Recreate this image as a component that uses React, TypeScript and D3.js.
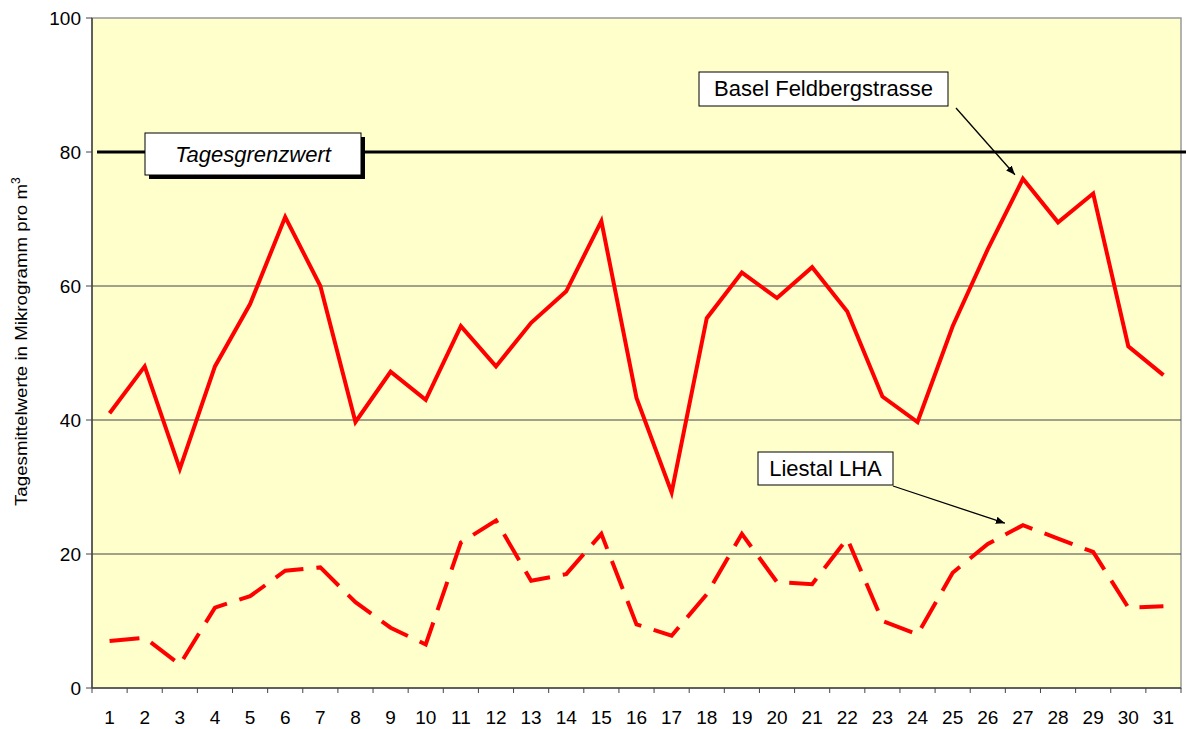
import React from 'react';
import * as d3 from 'd3';

// days of the month
const days = d3.range(1, 32).map(String);

// daily means, µg/m³
const basel = [41, 48, 32.7, 48, 57.3, 70.3, 60, 39.7, 47.2, 43, 54, 48, 54.5, 59.2, 69.7, 43.3,
  29.2, 55.2, 62, 58.2, 62.8, 56.2, 43.5, 39.7, 54, 65.5, 76, 69.5, 73.8, 51, 46.7];
const liestal = [7, 7.5, 3.5, 12, 13.7, 17.5, 18, 12.8, 9, 6.5, 21.7, 25, 16, 17, 23, 9.5,
  7.8, 14, 23, 15.8, 15.5, 22.3, 10, 8, 17.2, 21.5, 24.3, 22.3, 20.3, 12, 12.2];

const yTicks = [0, 20, 40, 60, 80, 100];
const grenzwert = 80;

const W = 1186;
const H = 729;
const m = { left: 92, right: 5, top: 18, bottom: 41 };
const font = '"Liberation Sans", Arial, sans-serif';

const App = () => {
  const x = d3.scaleBand().domain(days).range([m.left, W - m.right]);
  const y = d3.scaleLinear().domain([0, 100]).range([H - m.bottom, m.top]);
  const cx = (d: string) => (x(d) as number) + x.bandwidth() / 2;

  const line = d3.line<number>()
    .x((_, i) => cx(days[i]))
    .y(d => y(d));

  const boundaries = days.map(d => x(d) as number).concat([W - m.right]);

  // arrow tips near day 27
  const bTip = [cx('27') - 8, y(basel[26]) - 4];
  const lTip = [cx('27') - 18, y(liestal[26]) - 2];

  return (
    <svg width={W} height={H} style={{ position: 'absolute', left: 0, top: 0, background: '#fff' }}>
      <defs>
        <marker id="arr" viewBox="0 0 10 10" refX="10" refY="5" markerWidth="7" markerHeight="7" orient="auto">
          <path d="M0,1 L10,5 L0,9 z" fill="#000" />
        </marker>
      </defs>
      <rect x={m.left} y={m.top} width={W - m.right - m.left} height={H - m.bottom - m.top}
        fill="#FFFFCC" stroke="#999" strokeWidth={1.5} />

      {/* grid */}
      {[20, 40, 60].map(t => (
        <line key={t} x1={m.left} x2={W - m.right} y1={y(t)} y2={y(t)} stroke="#444" strokeWidth={1} />
      ))}

      {/* y axis */}
      <line x1={m.left} x2={m.left} y1={m.top} y2={y(0)} stroke="#444" strokeWidth={1.5} />
      {yTicks.map(t => (
        <g key={t}>
          <line x1={m.left - 6} x2={m.left} y1={y(t)} y2={y(t)} stroke="#444" />
          <text x={m.left - 11} y={y(t)} dy="0.35em" textAnchor="end" fontFamily={font} fontSize={19}>{t}</text>
        </g>
      ))}

      {/* x axis */}
      <line x1={m.left} x2={W - m.right} y1={y(0)} y2={y(0)} stroke="#444" strokeWidth={1.5} />
      {boundaries.map((b, i) => (
        <line key={i} x1={b} x2={b} y1={y(0)} y2={y(0) + 5} stroke="#444" />
      ))}
      {days.map(d => (
        <text key={d} x={cx(d)} y={y(0) + 36} textAnchor="middle" fontFamily={font} fontSize={19}>{d}</text>
      ))}

      {/* limit line */}
      <line x1={m.left + 5} x2={W} y1={y(grenzwert)} y2={y(grenzwert)} stroke="#000" strokeWidth={3} />

      {/* series */}
      <path d={line(basel) as string} fill="none" stroke="#FF0000" strokeWidth={4} strokeLinejoin="miter" />
      <path d={line(liestal) as string} fill="none" stroke="#FF0000" strokeWidth={4}
        strokeDasharray="30 13" />

      {/* annotations */}
      <rect x={149} y={y(grenzwert) - 15} width={216} height={42} fill="#000" />
      <rect x={145} y={y(grenzwert) - 19} width={216} height={42} fill="#fff" stroke="#000" strokeWidth={1} />
      <text x={253} y={y(grenzwert) + 10} textAnchor="middle" fontFamily={font} fontSize={22} fontStyle="italic">Tagesgrenzwert</text>

      <rect x={699} y={72} width={249} height={34} fill="#fff" stroke="#000" strokeWidth={1} />
      <text x={823.5} y={96} textAnchor="middle" fontFamily={font} fontSize={22}>Basel Feldbergstrasse</text>
      <line x1={956} y1={108} x2={bTip[0]} y2={bTip[1]} stroke="#000" strokeWidth={1.3} markerEnd="url(#arr)" />

      <rect x={758} y={452} width={135} height={33} fill="#fff" stroke="#000" strokeWidth={1} />
      <text x={825.5} y={476} textAnchor="middle" fontFamily={font} fontSize={22}>Liestal LHA</text>
      <line x1={893} y1={486} x2={lTip[0]} y2={lTip[1]} stroke="#000" strokeWidth={1.3} markerEnd="url(#arr)" />

      {/* y title */}
      <text transform={`translate(27,345) rotate(-90)`} textAnchor="middle"
        fontFamily={font} fontSize={17} textLength={322} lengthAdjust="spacingAndGlyphs">
        Tagesmittelwerte in Mikrogramm pro m
      </text>
      <text transform={`translate(20,184) rotate(-90)`} textAnchor="start"
        fontFamily={font} fontSize={12}>3</text>
    </svg>
  );
};

export default App;
